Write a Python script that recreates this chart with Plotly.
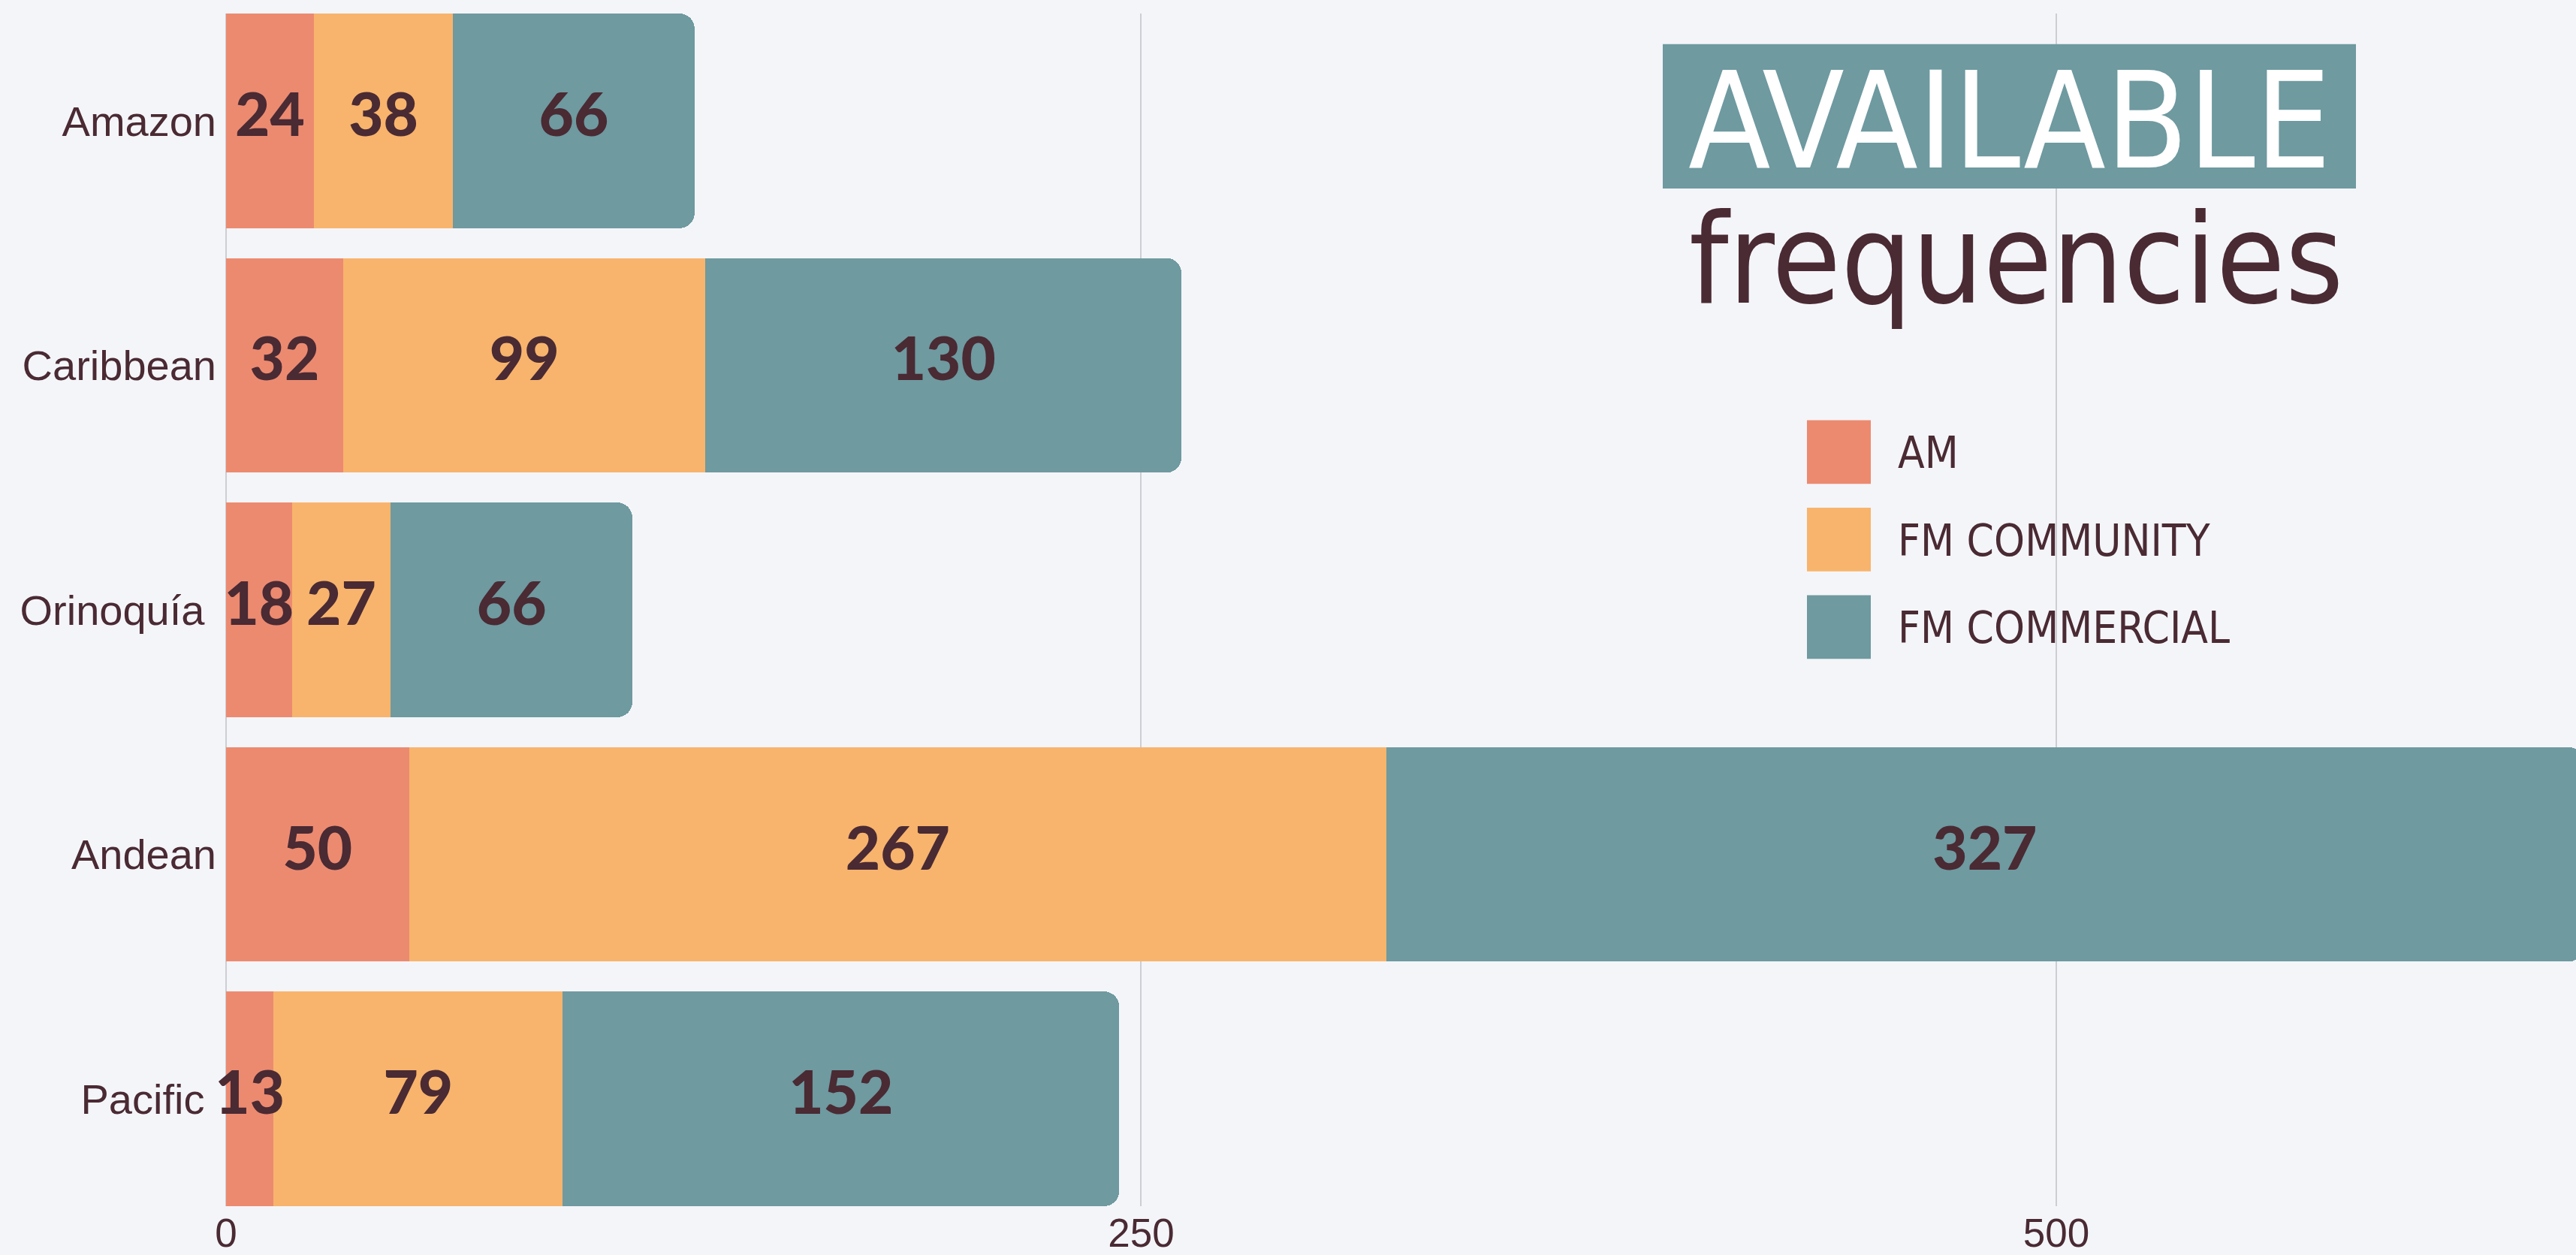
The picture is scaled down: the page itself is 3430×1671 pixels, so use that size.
import plotly.graph_objects as go

# data
regions = ["Amazon", "Caribbean", "Orinoquía", "Andean", "Pacific"]
region_labels = ["Amazon", "Caribbean", "Orinoquía\u00a0", "Andean", "Pacific\u00a0"]
series_names = ["AM", "FM COMMUNITY", "FM COMMERCIAL"]
am = [24, 32, 18, 50, 13]
fm_community = [38, 99, 27, 267, 79]
fm_commercial = [66, 130, 66, 327, 152]
x_ticks = [0, 250, 500]

colors = ["#EC8A70", "#F8B46C", "#6E9AA0"]
bg = "#F4F5F9"
ink = "#4A2A33"

W, H = 3430, 1671
L, R, T, B = 301, 0, 18, 58
pw, ph = W - L - R, H - T - B


def px_x(p):
    return (p - L) / pw


def px_y(p):
    return (T + ph - p) / ph


series = [am, fm_community, fm_commercial]

fig = go.Figure()
for name, vals, col in zip(series_names, series, colors):
    fig.add_trace(
        go.Bar(
            y=regions,
            x=vals,
            name=name,
            orientation="h",
            marker=dict(color=col, line=dict(width=0)),
            showlegend=False,
            hoverinfo="x+y+name",
        )
    )

# value labels, drawn on top of all bars so the narrow ones don't get cut
base = [0] * len(regions)
for vals in series:
    mids = [b + v / 2 for b, v in zip(base, vals)]
    fig.add_trace(
        go.Scatter(
            x=mids,
            y=regions,
            mode="text",
            text=[str(v) for v in vals],
            textposition="middle center",
            textfont=dict(family="Lato Black, Lato, Liberation Sans", size=80, color=ink, weight=900),
            showlegend=False,
            hoverinfo="skip",
            cliponaxis=False,
        )
    )
    base = [b + v for b, v in zip(base, vals)]

shapes = []
annotations = []

# cover the upper part of the grid behind the title / legend
shapes.append(dict(type="rect", xref="paper", yref="paper", layer="between",
                   x0=px_x(2150), x1=1.0, y0=px_y(933), y1=1.0,
                   fillcolor=bg, line=dict(width=0)))

# title box
shapes.append(dict(type="rect", xref="paper", yref="paper", layer="above",
                   x0=px_x(2214), x1=px_x(3137), y0=px_y(252), y1=px_y(59),
                   fillcolor="#6E9AA0", line=dict(width=0)))
annotations.append(dict(text="AVAILABLE", xref="paper", yref="paper",
                        x=px_x(2676), y=px_y(162), xanchor="center", yanchor="middle",
                        showarrow=False,
                        font=dict(family="DejaVu Sans Condensed, DejaVu Sans", size=178, color="white")))
annotations.append(dict(text="frequencies", xref="paper", yref="paper",
                        x=px_x(2685), y=px_y(347), xanchor="center", yanchor="middle",
                        showarrow=False,
                        font=dict(family="DejaVu Sans Condensed, DejaVu Sans", size=166, color=ink)))

# legend
for i, (name, col) in enumerate(zip(series_names, colors)):
    top = 562 + i * 117
    shapes.append(dict(type="rect", xref="paper", yref="paper", layer="above",
                       x0=px_x(2406), x1=px_x(2491), y0=px_y(top + 85), y1=px_y(top),
                       fillcolor=col, line=dict(width=0)))
    annotations.append(dict(text=name, xref="paper", yref="paper",
                            x=px_x(2525), y=px_y(top + 44), xanchor="left", yanchor="middle",
                            showarrow=False,
                            font=dict(family="DejaVu Sans Condensed", size=58, color=ink)))

fig.update_layout(
    width=W,
    height=H,
    autosize=False,
    barmode="stack",
    bargap=0.122,
    barcornerradius=20,
    paper_bgcolor=bg,
    plot_bgcolor=bg,
    margin=dict(l=L, r=R, t=T, b=B, pad=0),
    shapes=shapes,
    annotations=annotations,
    font=dict(family="Liberation Sans, Arial", color=ink),
)

fig.update_xaxes(
    range=[0, 642],
    tickvals=x_ticks,
    showgrid=True,
    gridcolor="#CDCED3",
    gridwidth=2,
    zeroline=True,
    zerolinecolor="#CDCED3",
    zerolinewidth=2,
    showline=False,
    ticks="",
    tickfont=dict(family="Liberation Sans, Arial", size=53, color=ink),
)
fig.update_yaxes(
    type="category",
    categoryorder="array",
    categoryarray=regions,
    tickvals=regions,
    ticktext=region_labels,
    range=[4.439, -0.439],
    showgrid=False,
    zeroline=False,
    ticks="",
    ticklabelstandoff=12,
    tickfont=dict(family="Liberation Sans, Arial", size=56, color=ink),
)

fig.write_html(
    "out.html",
    config={"displayModeBar": False},
    post_script="document.body.style.margin='0';document.body.style.background='#F4F5F9';",
)
